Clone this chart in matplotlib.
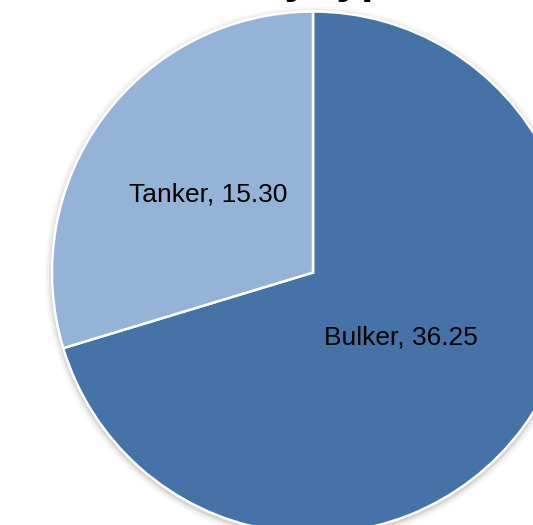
import matplotlib
matplotlib.use("Agg")
from matplotlib import pyplot as plt
import matplotlib.patches as mpatches
import numpy as np

labels = ["Bulker", "Tanker"]
values = [36.25, 15.30]
colors = ["#4573A7", "#95B3D7"]
label_dist = [0.42, 0.50]
title = "Fleet by type"

fig = plt.figure(figsize=(5.33, 5.25), dpi=100)
ax = fig.add_axes([0, 0, 1, 1])

cx, cy, r = 313, 252.5, 261

# soft shadow behind the pie
for k, a in [(7, 0.04), (5, 0.06), (3, 0.09), (1.5, 0.12)]:
    ax.add_patch(mpatches.Circle((cx, cy - 2), r + k, color="#666666", alpha=a, lw=0, zorder=0))

wedges, _ = ax.pie(values, colors=colors, startangle=90, counterclock=False,
                   center=(cx, cy), radius=r,
                   wedgeprops=dict(edgecolor="white", linewidth=1.8))
for w in wedges:
    w.set_zorder(1)

for w, lab, v, d in zip(wedges, labels, values, label_dist):
    th = np.deg2rad((w.theta1 + w.theta2) / 2)
    ax.text(cx + d * r * np.cos(th), cy + d * r * np.sin(th), f"{lab}, {v:.2f}",
            ha="center", va="center", fontsize=19, family="Liberation Sans", color="black")

ax.set_xlim(0, 533)
ax.set_ylim(0, 525)
ax.set_aspect("auto")
ax.axis("off")

fig.text(0.519, 532 / 525, title, ha="center", va="baseline", fontsize=32,
         fontweight="bold", family="Liberation Sans")

fig.savefig("out.png", dpi=100)
